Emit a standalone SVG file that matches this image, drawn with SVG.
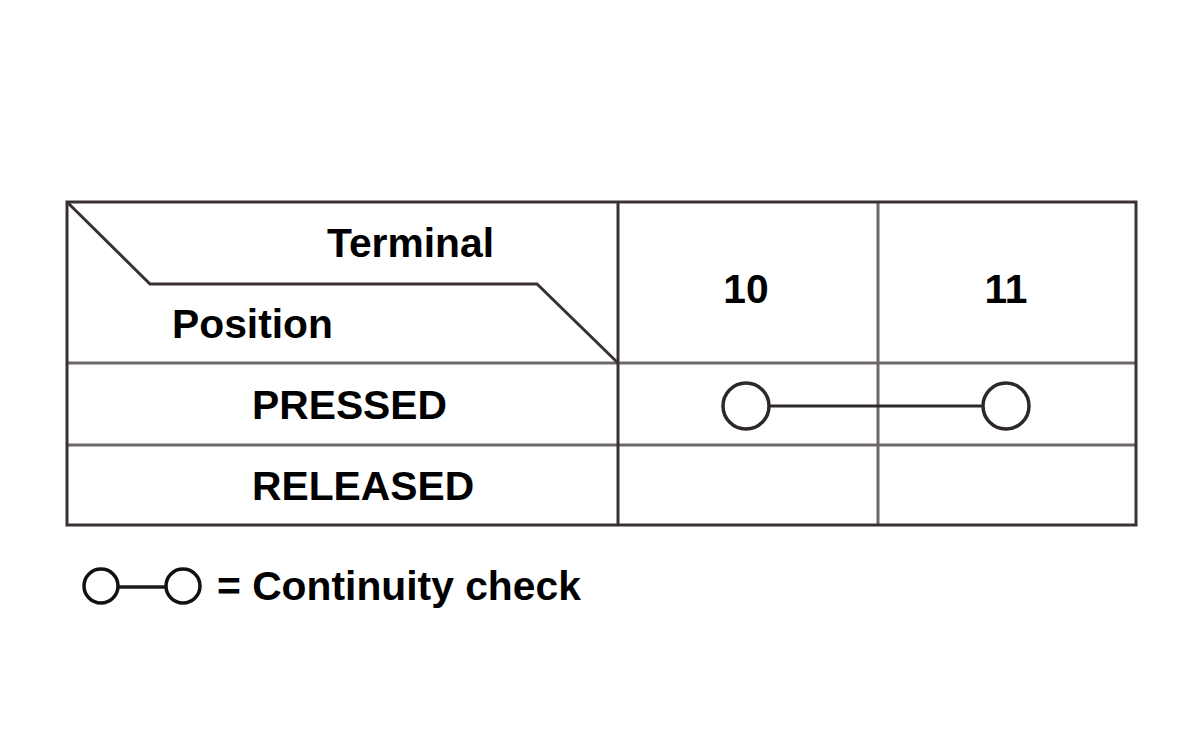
<svg xmlns="http://www.w3.org/2000/svg" width="1200" height="730" viewBox="0 0 1200 730">
<style>
.t{font-family:"Liberation Sans",Arial,sans-serif;font-weight:bold;font-size:40.8px;fill:#000}
.c{text-anchor:middle}
.ln{stroke:#3a3232;stroke-width:3;fill:none}
.gl{stroke:#6e6868;stroke-width:3;fill:none}
.sym{stroke:#2e2828;stroke-width:3.5;fill:#fff}
</style>
<rect width="1200" height="730" fill="#fff"/>
<g id="table">
<line class="gl" x1="67" y1="363" x2="1136" y2="363"/>
<line class="gl" x1="67" y1="445" x2="1136" y2="445"/>
<line class="gl" x1="878" y1="202" x2="878" y2="525"/>
<line class="ln" x1="618" y1="202" x2="618" y2="525"/>
<rect class="ln" x="67" y="202" width="1069" height="323"/>
<polyline class="ln" points="67,202 150,284 537,284 618,363"/>
</g>
<g id="header">
<text class="t" x="327" y="257">Terminal</text>
<text class="t" x="172" y="338">Position</text>
<text class="t c" x="746" y="303">10</text>
<text class="t c" x="1006" y="303">11</text>
</g>
<g id="rows">
<text class="t" x="252" y="419">PRESSED</text>
<text class="t" x="252" y="500">RELEASED</text>
</g>
<g id="connectors">
<line stroke="#2e2828" stroke-width="3" x1="768" y1="406" x2="984" y2="406"/>
<line stroke="#1a1a1a" stroke-width="3.5" x1="118" y1="587" x2="166" y2="587"/>
</g>
<g id="pressed-10"><circle class="sym" cx="746" cy="406" r="23"/></g>
<g id="pressed-11"><circle class="sym" cx="1006" cy="406" r="23"/></g>
<g id="legend">
<circle cx="101" cy="586" r="17" stroke="#111" stroke-width="3.5" fill="#fff"/>
<circle cx="183" cy="586" r="17" stroke="#111" stroke-width="3.5" fill="#fff"/>
<text class="t" x="217" y="600">= Continuity check</text>
</g>
</svg>
